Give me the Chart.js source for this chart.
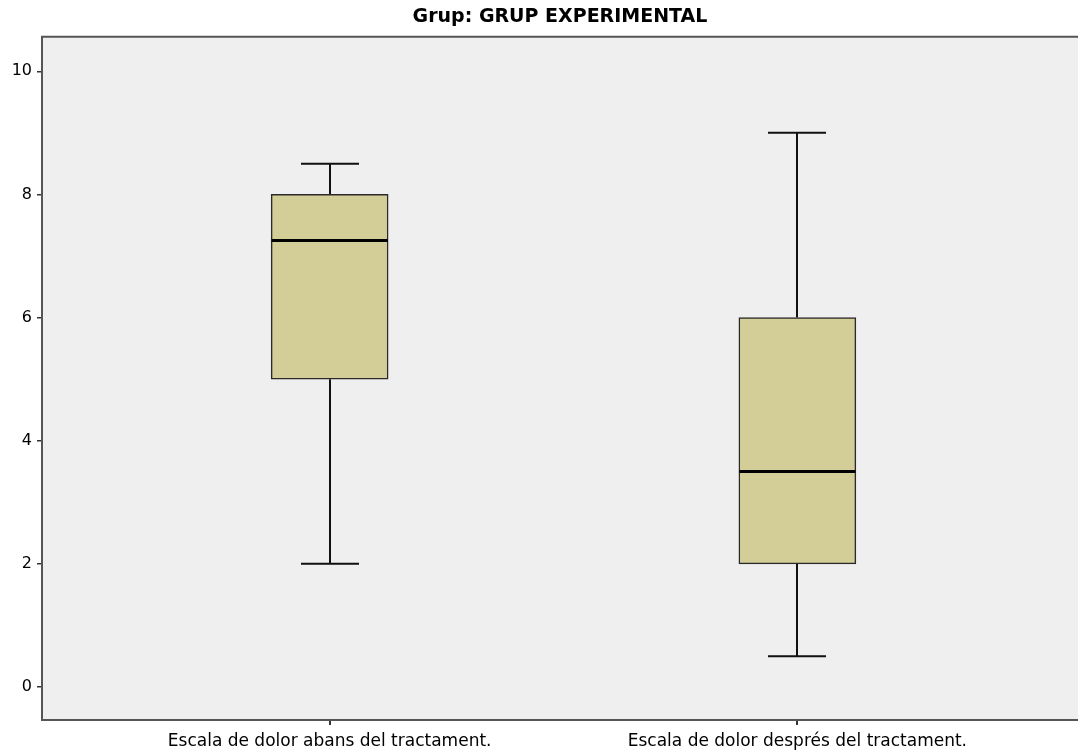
<!DOCTYPE html>
<html>
<head>
<meta charset="utf-8">
<script src="https://cdn.jsdelivr.net/npm/chart.js@4.4.1/dist/chart.umd.min.js"></script>
<style>
  body { margin: 0; background: #fff; }
  #wrap { width: 1078px; height: 753px; }
</style>
</head>
<body>
<div id="wrap"><canvas id="myChart" width="1078" height="753"></canvas></div>
<script>
// categories & box statistics
const categories = ["Escala de dolor abans del tractament.", "Escala de dolor després del tractament."];
const positions = [1, 2];
const whiskerLow = [2, 0.5];
const q1 = [5, 2];
const medians = [7.25, 3.5];
const q3 = [8, 6];
const whiskerHigh = [8.5, 9];
const yTicks = [0, 2, 4, 6, 8, 10];

const boxData = positions.map((x, i) => ({ x: x, y: [q1[i], q3[i]] }));

const boxPlotPlugin = {
    id: 'boxPlot',
    beforeDraw(chart) {
        const { ctx, chartArea } = chart;
        ctx.save();
        ctx.fillStyle = '#efefef';
        ctx.fillRect(chartArea.left, chartArea.top, chartArea.right - chartArea.left, chartArea.bottom - chartArea.top);
        // top frame line
        ctx.strokeStyle = '#555';
        ctx.lineWidth = 2;
        ctx.beginPath();
        ctx.moveTo(chartArea.left - 1, chartArea.top);
        ctx.lineTo(chartArea.right, chartArea.top);
        ctx.stroke();
        ctx.restore();
    },
    beforeDatasetsDraw(chart) {
        const { ctx, scales } = chart;
        const xs = scales.x, ys = scales.y;
        ctx.save();
        ctx.strokeStyle = '#111';
        ctx.lineWidth = 2;
        positions.forEach((p, i) => {
            const cx = Math.round(xs.getPixelForValue(p));
            const capHalf = 29;
            const yLo = ys.getPixelForValue(whiskerLow[i]);
            const yHi = ys.getPixelForValue(whiskerHigh[i]);
            ctx.beginPath();
            ctx.moveTo(cx, yHi);
            ctx.lineTo(cx, ys.getPixelForValue(q3[i]));
            ctx.moveTo(cx, ys.getPixelForValue(q1[i]));
            ctx.lineTo(cx, yLo);
            ctx.moveTo(cx - capHalf, yHi);
            ctx.lineTo(cx + capHalf, yHi);
            ctx.moveTo(cx - capHalf, yLo);
            ctx.lineTo(cx + capHalf, yLo);
            ctx.stroke();
        });
        ctx.restore();
    },
    afterDatasetsDraw(chart) {
        const { ctx, scales } = chart;
        const xs = scales.x, ys = scales.y;
        ctx.save();
        ctx.strokeStyle = '#000';
        ctx.lineWidth = 3;
        positions.forEach((p, i) => {
            const cx = xs.getPixelForValue(p);
            const ym = ys.getPixelForValue(medians[i]);
            ctx.beginPath();
            ctx.moveTo(cx - 58, ym);
            ctx.lineTo(cx + 58, ym);
            ctx.stroke();
        });
        ctx.restore();
    }
};

const ctx = document.getElementById('myChart').getContext('2d');
new Chart(ctx, {
    type: 'bar',
    data: {
        datasets: [{
            data: boxData,
            backgroundColor: '#d3ce98',
            borderColor: '#2a2a2a',
            borderWidth: 1.5,
            borderSkipped: false,
            barThickness: 117
        }]
    },
    options: {
        responsive: false,
        animation: false,
        layout: { padding: { left: 0, right: 0, top: 0, bottom: 0 } },
        plugins: {
            legend: { display: false },
            tooltip: { enabled: false },
            title: {
                display: true,
                fullSize: false,
                text: 'Grup: GRUP EXPERIMENTAL',
                color: '#000',
                font: { family: 'DejaVu Sans', size: 19, weight: 'bold' },
                padding: { top: 6, bottom: 8 }
            }
        },
        scales: {
            x: {
                type: 'linear',
                offset: false,
                min: 0.385,
                max: 2.6,
                afterBuildTicks(scale) {
                    scale.ticks = positions.map(v => ({ value: v }));
                },
                afterFit(scale) { scale.height = 33; },
                ticks: {
                    color: '#000',
                    font: { family: 'DejaVu Sans', size: 17 },
                    padding: 6,
                    maxRotation: 0,
                    autoSkip: false,
                    callback: (v) => categories[positions.indexOf(v)] || ''
                },
                grid: { offset: false, drawOnChartArea: false, drawTicks: true, tickLength: 5, color: '#333', lineWidth: 2 },
                border: { display: true, color: '#555', width: 2 }
            },
            y: {
                min: -0.536,
                max: 10.56,
                afterBuildTicks(scale) {
                    scale.ticks = yTicks.map(v => ({ value: v }));
                },
                afterFit(scale) { scale.width = 42; },
                ticks: {
                    color: '#000',
                    font: { family: 'DejaVu Sans', size: 16 },
                    padding: 5
                },
                grid: { drawOnChartArea: false, drawTicks: true, tickLength: 5, color: '#333', lineWidth: 1.5 },
                border: { display: true, color: '#555', width: 2 }
            }
        }
    },
    plugins: [boxPlotPlugin]
});
</script>
</body>
</html>
